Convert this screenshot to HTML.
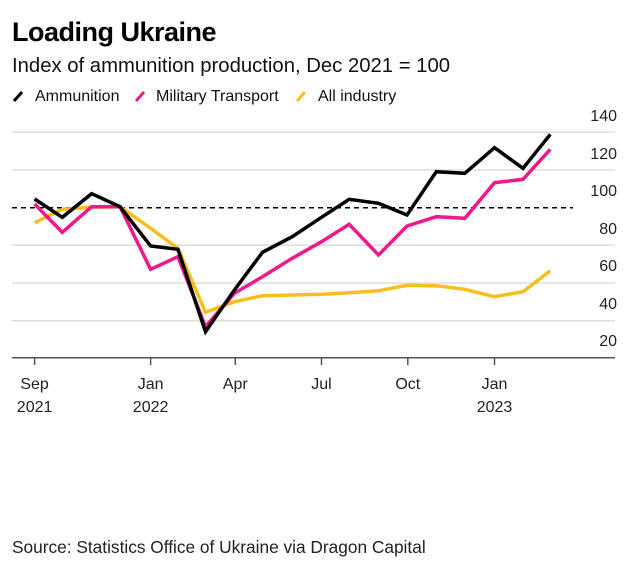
<!DOCTYPE html>
<html><head><meta charset="utf-8"><style>
html,body{margin:0;padding:0;background:#fff;}
svg{display:block;font-family:"Liberation Sans",sans-serif;}
</style></head><body>
<svg width="640" height="569" viewBox="0 0 640 569" xmlns="http://www.w3.org/2000/svg">
<text x="12" y="41" font-size="27" font-weight="bold" fill="#000" letter-spacing="-0.5">Loading Ukraine</text>
<text x="12" y="72" font-size="20.3" fill="#111">Index of ammunition production, Dec 2021 = 100</text>
<g font-size="16" fill="#111">
<line x1="14" y1="101" x2="22" y2="92" stroke="#000" stroke-width="3"/>
<text x="35" y="101">Ammunition</text>
<line x1="136" y1="101" x2="144" y2="92" stroke="#f0198c" stroke-width="3"/>
<text x="156" y="101">Military Transport</text>
<line x1="297" y1="101" x2="305" y2="92" stroke="#f8be1d" stroke-width="3"/>
<text x="318" y="101">All industry</text>
</g>
<g stroke="#ddd" stroke-width="1.5">
<line x1="12" y1="132.3" x2="615" y2="132.3"/>
<line x1="12" y1="170" x2="615" y2="170"/>
<line x1="12" y1="245.3" x2="615" y2="245.3"/>
<line x1="12" y1="283" x2="615" y2="283"/>
<line x1="12" y1="320.7" x2="615" y2="320.7"/>
</g>
<line x1="12" y1="207.7" x2="573" y2="207.7" stroke="#000" stroke-width="1.5" stroke-dasharray="5,4"/>
<line x1="12" y1="357.7" x2="615" y2="357.7" stroke="#555" stroke-width="1.5"/>
<g font-size="16" fill="#222" text-anchor="end">
<text x="617" y="121">140</text>
<text x="617" y="159">120</text>
<text x="617" y="196">100</text>
<text x="617" y="234">80</text>
<text x="617" y="271">60</text>
<text x="617" y="309">40</text>
<text x="617" y="346">20</text>
</g>
<g stroke="#555" stroke-width="1.5">
<line x1="34.6" y1="358" x2="34.6" y2="365"/><line x1="150.6" y1="358" x2="150.6" y2="365"/>
<line x1="235.3" y1="358" x2="235.3" y2="365"/><line x1="321.5" y1="358" x2="321.5" y2="365"/>
<line x1="407.8" y1="358" x2="407.8" y2="365"/><line x1="494.5" y1="358" x2="494.5" y2="365"/>
</g>
<g font-size="16" fill="#222" text-anchor="middle">
<text x="34.6" y="389">Sep</text><text x="34.6" y="412">2021</text>
<text x="150.6" y="389">Jan</text><text x="150.6" y="412">2022</text>
<text x="235.3" y="389">Apr</text>
<text x="321.5" y="389">Jul</text>
<text x="407.8" y="389">Oct</text>
<text x="494.5" y="389">Jan</text><text x="494.5" y="412">2023</text>
</g>
<g fill="none" stroke-width="3.5" stroke-linejoin="miter">
<polyline stroke="#f8be1d" points="34.6,222.7 62.3,209.3 91.6,207.3 120,206.7 150.6,228.3 177.9,248.3 205.5,312.3 234.4,301.7 262.5,295.7 292.2,295 321.5,294.3 349.2,292.7 378.5,290.7 407,285.3 436.3,285.7 464.8,289.3 494.5,296.7 523,291.7 550.3,270.7"/>
<polyline stroke="#f0198c" points="34.6,204 62.3,232.3 91.6,206.7 120,206.7 150.6,269.3 177.9,256.7 205.5,326.7 234.4,293.3 262.5,276.7 292.2,258.3 321.5,241.7 349.2,224.3 378.5,255 407,226 436.3,216.7 464.8,218.3 494.5,182.7 523,179.3 550.3,149.3"/>
<polyline stroke="#000" points="34.6,199 62.3,217.3 91.6,193.7 120,206.7 150.6,246 177.9,249.3 205.5,331.7 234.4,290 262.5,252.3 292.2,236.7 321.5,217.3 349.2,199.3 378.5,203.3 407,215 436.3,171.7 464.8,173.3 494.5,147.7 523,168.3 550.3,134.3"/>
</g>
<text x="12" y="553" font-size="17.3" fill="#222">Source: Statistics Office of Ukraine via Dragon Capital</text>
</svg>
</body></html>
